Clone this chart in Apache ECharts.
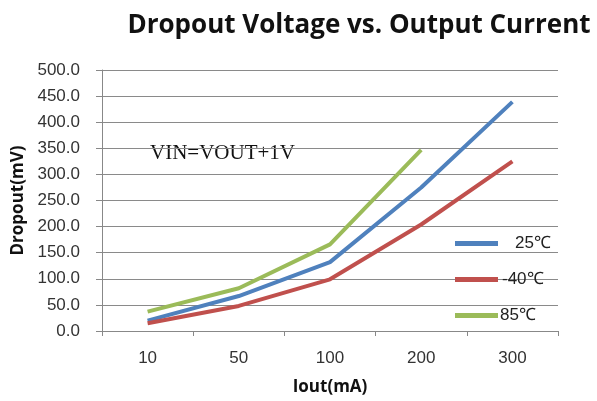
<!DOCTYPE html>
<html><head><meta charset="utf-8">
<script src="https://cdn.jsdelivr.net/npm/echarts@6/dist/echarts.min.js"></script>
<style>html,body{margin:0;padding:0;background:#fff}#c{width:597px;height:401px}</style>
</head><body><div id="c"></div>
<script>
const categories = ['10', '50', '100', '200', '300'];
const s25 = [20, 67, 132, 275, 439];
const sMinus40 = [15, 48, 99, 204, 325];
const s85 = [37, 82, 166, 347, null];
const seriesNames = ['25℃', '-40℃', '85℃'];

const chart = echarts.init(document.getElementById('c'));
const lineSeries = (name, data, color) => ({
  name, type: 'line', data, symbol: 'none', smooth: false,
  lineStyle: { color, width: 4 }, itemStyle: { color }
});
chart.setOption({
  animation: false,
  title: {
    text: 'Dropout Voltage vs. Output Current',
    left: 354, top: 8, textAlign: 'center',
    textStyle: { fontFamily: 'Open Sans', fontWeight: 'bold', fontSize: 26, color: '#111' }
  },
  grid: { left: 102, right: 39, top: 70, bottom: 68 },
  legend: {
    orient: 'vertical', left: 450, top: 230, itemGap: 19,
    itemWidth: 43, itemHeight: 5, icon: 'rect',
    textStyle: { fontFamily: 'Liberation Sans', fontSize: 17, color: '#222' },
    data: [
      { name: seriesNames[0], textStyle: { padding: [0, 0, 0, 12] } },
      { name: seriesNames[1], textStyle: { padding: [0, 0, 0, -1] } },
      { name: seriesNames[2], textStyle: { padding: [0, 0, 0, -3] } }
    ]
  },
  xAxis: {
    type: 'category', data: categories, boundaryGap: true,
    name: 'Iout(mA)', nameLocation: 'middle', nameGap: 48,
    nameTextStyle: { fontFamily: 'Open Sans', fontWeight: 'bold', fontSize: 17, color: '#111' },
    axisLine: { lineStyle: { color: '#888' } },
    axisTick: { show: true, length: 5, lineStyle: { color: '#888' } },
    axisLabel: { fontFamily: 'Liberation Sans', fontSize: 17, color: '#333', margin: 19 }
  },
  yAxis: {
    type: 'value', min: 0, max: 500, interval: 50,
    name: 'Dropout(mV)', nameLocation: 'middle', nameGap: 74,
    nameTextStyle: { fontFamily: 'Open Sans', fontWeight: 'bold', fontSize: 17, color: '#111' },
    axisLine: { show: true, lineStyle: { color: '#888' } },
    axisTick: { show: true, length: 6, lineStyle: { color: '#888' } },
    axisLabel: { fontFamily: 'Liberation Sans', fontSize: 17, color: '#333', margin: 22,
      formatter: v => v.toFixed(1) },
    splitLine: { lineStyle: { color: '#8a8a8a', width: 1 } }
  },
  graphic: [{
    type: 'text', left: 150, top: 143,
    style: { text: 'VIN=VOUT+1V', font: '21px "Liberation Serif"', fill: '#111' }
  }],
  series: [
    lineSeries(seriesNames[0], s25, '#4F81BD'),
    lineSeries(seriesNames[1], sMinus40, '#C0504D'),
    lineSeries(seriesNames[2], s85, '#9BBB59')
  ]
});
</script></body></html>
